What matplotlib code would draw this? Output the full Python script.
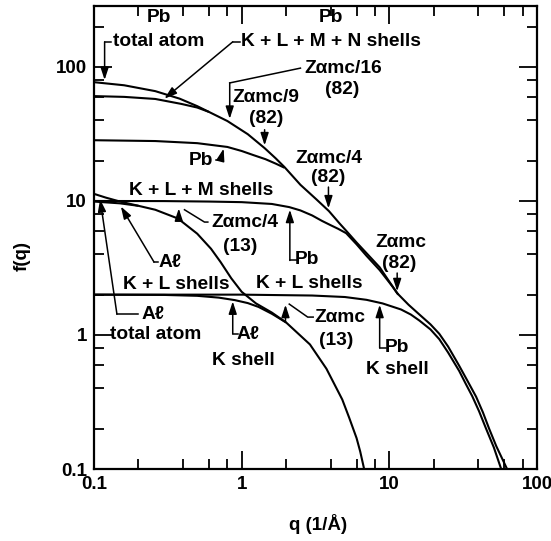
import matplotlib
matplotlib.use("Agg")
import matplotlib.pyplot as plt
from matplotlib.ticker import LogLocator, NullFormatter, FixedLocator, FuncFormatter

# Pb curves (q in 1/A, f(q))
pb_total_q = [0.1, 0.16, 0.26, 0.38, 0.5, 0.6, 0.8, 1.1, 1.43, 1.7, 1.95, 2.5, 3.2, 3.9, 4.6,
              5.1, 6.0, 7.2, 8.6, 10, 11.3, 13.5, 16, 19, 21.8, 25, 29.7, 34, 38.7, 43,
              47.4, 53, 58, 62.7]
pb_total_f = [77, 73, 66, 58, 51, 46.2, 39.5, 31.5, 24.8, 20.8, 17.9, 13.2, 10.3, 8.4, 6.8,
              6.0, 4.9, 3.95, 3.2, 2.5, 2.05, 1.68, 1.42, 1.2, 1.02, 0.82, 0.59, 0.45, 0.346, 0.265,
              0.2, 0.148, 0.12, 0.1]
pb_klmn_q = [0.1, 0.16, 0.26, 0.39, 0.5, 0.6]
pb_klmn_f = [60.6, 59.8, 57.7, 53, 49.8, 46.2]
pb_klm_q = [0.1, 0.26, 0.5, 0.8, 1.0, 1.2, 1.45, 1.7, 1.95]
pb_klm_f = [28.4, 28.0, 27.0, 25.3, 23.6, 22.0, 20.5, 19.0, 17.7]
pb_kl_q = [0.1, 0.3, 0.6, 1.0, 1.6, 2.1, 2.5, 3.0, 3.5, 4.0, 4.5, 5.1, 6.0, 7.0, 8.6, 10.5, 11.5]
pb_kl_f = [10.0, 9.98, 9.9, 9.8, 9.5, 9.0, 8.5, 7.8, 7.1, 6.6, 6.2, 5.75, 4.75, 3.9, 3.05, 2.3, 2.0]
pb_k_q = [0.1, 1, 3, 5, 7, 9, 12, 14, 16, 19, 21.8, 25, 29.7, 33, 36.4, 40.5, 45.2, 51, 57.2]
pb_k_f = [2.0, 2.0, 1.97, 1.92, 1.83, 1.72, 1.55, 1.42, 1.28, 1.1, 0.93, 0.74, 0.54, 0.43,
          0.35, 0.27, 0.2, 0.145, 0.1]

# Al curves
al_total_q = [0.1, 0.12, 0.15, 0.2]
al_total_f = [11.3, 10.6, 9.9, 9.2]
al_kl_q = [0.1, 0.15, 0.2, 0.26, 0.37, 0.5, 0.62, 0.72, 0.85, 1.0, 1.25, 1.6, 2.0, 2.9,
           3.75, 4.8, 5.35, 6.0, 6.35, 6.75]
al_kl_f = [9.9, 9.6, 9.2, 8.6, 7.4, 5.7, 4.4, 3.5, 2.65, 2.1, 1.72, 1.47, 1.24, 0.85,
           0.56, 0.33, 0.241, 0.17, 0.135, 0.1]
al_k_q = [0.1, 0.3, 0.5, 0.7, 0.9, 1.1, 1.3, 1.6, 2.0]
al_k_f = [2.0, 1.99, 1.96, 1.9, 1.82, 1.73, 1.62, 1.44, 1.24]

major_ticks = [0.1, 1, 10, 100]

plt.rcParams["font.family"] = ["Liberation Sans", "DejaVu Sans"]
plt.rcParams["font.weight"] = "bold"
plt.rcParams["font.size"] = 13.5

fig = plt.figure(figsize=(5.51, 5.41), dpi=100)
ax = fig.add_axes([94 / 551, 72 / 541, 443 / 551, 463 / 541])
ax.set_xscale("log")
ax.set_yscale("log")

lw = 1.5
for q, f in [(pb_total_q, pb_total_f), (pb_klmn_q, pb_klmn_f), (pb_klm_q, pb_klm_f),
             (pb_kl_q, pb_kl_f), (pb_k_q, pb_k_f), (al_total_q, al_total_f),
             (al_kl_q, al_kl_f), (al_k_q, al_k_f)]:
    ax.plot(q, f, color="black", lw=lw, solid_capstyle="butt", solid_joinstyle="round")


def leader(pts):
    xs = [p[0] for p in pts]
    ys = [p[1] for p in pts]
    if len(pts) > 2:
        ax.plot(xs[:-1], ys[:-1], color="black", lw=1.1)
    ax.annotate("", xy=pts[-1], xytext=pts[-2],
                arrowprops=dict(arrowstyle="-|>,head_length=0.55,head_width=0.18",
                                color="black", lw=1.1, shrinkA=0, shrinkB=0))


def label(x, y, s, ha="center"):
    ax.text(x, y, s, ha=ha, va="center", fontsize=13.8, fontweight="bold")


# Pb labels
label(0.275, 232, "Pb")
label(0.275, 154, "total atom")
leader([(0.131, 154), (0.118, 154), (0.118, 80)])

label(4.0, 232, "Pb")
label(4.0, 154, "K + L + M + N shells")
leader([(0.98, 154), (0.87, 154), (0.30, 58)])

label(4.89, 98, "Z\u03b1mc/16")
label(4.8, 67.9, "(82)")
leader([(2.5, 98), (0.83, 76), (0.83, 41)])

label(1.47, 58.8, "Z\u03b1mc/9")
label(1.47, 41.6, "(82)")
leader([(1.43, 34), (1.43, 26)])

label(0.53, 20.2, "Pb")
leader([(0.665, 20.2), (0.72, 20.2), (0.755, 24.6)])
label(0.53, 11.9, "K + L + M shells")

label(3.87, 20.9, "Z\u03b1mc/4")
label(3.87, 14.9, "(82)")
leader([(3.87, 12.7), (3.87, 8.8)])

label(12.05, 4.94, "Z\u03b1mc")
label(11.7, 3.44, "(82)")
leader([(11.3, 2.9), (11.3, 2.12)])

label(2.75, 3.63, "Pb")
leader([(2.36, 3.6), (2.12, 3.6), (2.12, 8.6)])
label(2.88, 2.44, "K + L shells")

label(11.3, 0.80, "Pb")
leader([(9.5, 0.8), (8.6, 0.8), (8.6, 1.68)])
label(11.3, 0.548, "K shell")

# Al labels
label(1.05, 6.96, "Z\u03b1mc/4")
label(0.984, 4.61, "(13)")
ax.plot([0.59, 0.56, 0.41], [6.96, 6.96, 8.6], color="black", lw=1.1)
leader([(0.375, 7.4), (0.375, 8.8)])

label(0.327, 3.5, "A\u2113")
leader([(0.27, 3.5), (0.255, 3.5), (0.152, 9.1)])
label(0.358, 2.4, "K + L shells")

label(0.25, 1.41, "A\u2113")
leader([(0.2, 1.43), (0.143, 1.43), (0.11, 10.3)])
label(0.128, 1.0, "total atom", ha="left")

label(1.1, 1.0, "A\u2113")
leader([(0.94, 1.02), (0.87, 1.02), (0.87, 1.78)])
label(1.03, 0.65, "K shell")

label(4.59, 1.34, "Z\u03b1mc")
label(4.4, 0.917, "(13)")
ax.plot([3.05, 2.8, 2.1], [1.36, 1.36, 1.7], color="black", lw=1.1)
leader([(1.98, 1.28), (1.98, 1.68)])

ax.set_xlim(0.1, 100)
ax.set_ylim(0.1, 285)

for axis in (ax.xaxis, ax.yaxis):
    axis.set_major_locator(FixedLocator(major_ticks))
    axis.set_major_formatter(FuncFormatter(lambda v, p: "%g" % v))
    axis.set_minor_locator(LogLocator(base=10, subs=(2, 4, 6, 8)))
    axis.set_minor_formatter(NullFormatter())

ax.tick_params(which="both", direction="in", top=True, right=True, width=1.3,
               labelsize=13.5)
ax.tick_params(which="major", length=13, pad=5)
ax.tick_params(which="minor", length=7)
for s in ax.spines.values():
    s.set_linewidth(1.6)

ax.set_xlabel("q (1/\u00c5)", fontsize=13.5, fontweight="bold")
ax.set_ylabel("f(q)", fontsize=13.5, fontweight="bold")
ax.xaxis.set_label_coords(0.506, -0.097)
ax.yaxis.set_label_coords(-0.144, 0.46)

fig.savefig("out.png", dpi=100)
